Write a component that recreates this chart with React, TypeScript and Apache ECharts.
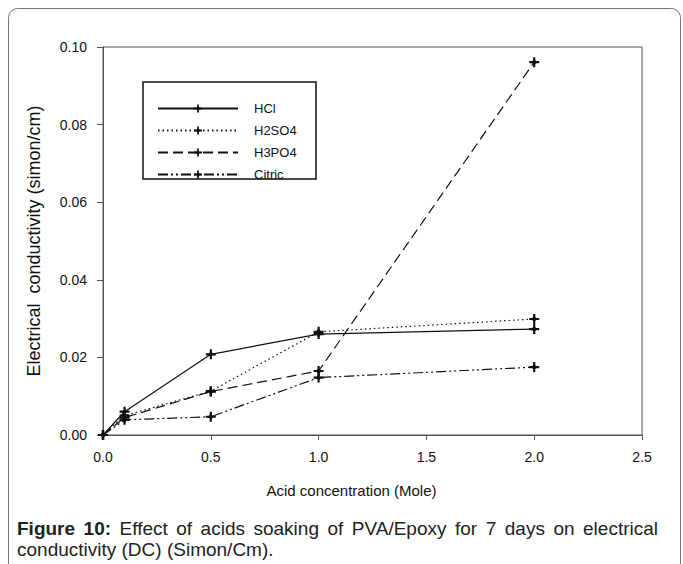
import React, { useEffect, useRef } from "react";
import * as echarts from "echarts";

const seriesNames = ["HCl", "H2SO4", "H3PO4", "Citric"];
const concentrations = [0, 0.1, 0.5, 1.0, 2.0];
const hclValues = [0, 0.006, 0.0208, 0.026, 0.0273];
const h2so4Values = [0, 0.005, 0.0113, 0.0266, 0.0299];
const h3po4Values = [0, 0.0045, 0.0112, 0.0165, 0.0961];
const citricValues = [0, 0.0039, 0.0047, 0.0148, 0.0175];
const xTicks = [0, 0.5, 1.0, 1.5, 2.0, 2.5];
const yTicks = [0, 0.02, 0.04, 0.06, 0.08, 0.1];

const captionLine1 = [
  { t: "Figure", b: true },
  { t: "10:", b: true },
  { t: "Effect", b: false },
  { t: "of", b: false },
  { t: "acids", b: false },
  { t: "soaking", b: false },
  { t: "of", b: false },
  { t: "PVA/Epoxy", b: false },
  { t: "for", b: false },
  { t: "7", b: false },
  { t: "days", b: false },
  { t: "on", b: false },
  { t: "electrical", b: false },
];
const captionLine2 = "conductivity (DC) (Simon/Cm).";

const FONT = "'Liberation Sans', Arial, sans-serif";
const MARK =
  "path://M3.9,0H6.1V3.9H10V6.1H6.1V10H3.9V6.1H0V3.9H3.9Z M5,1.9L8.1,5L5,8.1L1.9,5Z";

export default function App() {
  const ref = useRef<HTMLDivElement>(null);
  useEffect(() => {
    if (!ref.current) return;
    const chart = echarts.init(ref.current, null, { renderer: "svg" });

    // caption justification
    const capSize = 19;
    const cv = document.createElement("canvas");
    const ctx = cv.getContext("2d")!;
    const widths = captionLine1.map((w) => {
      ctx.font = `${w.b ? "bold " : ""}${capSize}px ${FONT}`;
      return ctx.measureText(w.t).width;
    });
    const capLeft = 17;
    const capRight = 658;
    const total = widths.reduce((a, b) => a + b, 0);
    const gap = (capRight - capLeft - total) / (captionLine1.length - 1);
    let cx = capLeft;
    const capEls: any[] = [];
    captionLine1.forEach((w, i) => {
      capEls.push({
        type: "text",
        x: cx,
        y: 528,
        style: {
          text: w.t,
          fontFamily: FONT,
          fontSize: capSize,
          fontWeight: w.b ? "bold" : "normal",
          fill: "#222",
          verticalAlign: "middle",
          align: "left",
        },
      });
      cx += widths[i] + gap;
    });
    capEls.push({
      type: "text",
      x: capLeft,
      y: 549,
      style: {
        text: captionLine2,
        fontFamily: FONT,
        fontSize: capSize,
        fill: "#222",
        verticalAlign: "middle",
        align: "left",
      },
    });

    const dash: any[] = ["solid", [1.5, 3], [10, 5], [10, 3, 2, 3, 2, 3]];
    const vals = [hclValues, h2so4Values, h3po4Values, citricValues];
    const series = seriesNames.map((name, i) => ({
      name,
      type: "line",
      data: concentrations.map((x, j) => [x, vals[i][j]]),
      symbol: MARK,
      symbolSize: 10,
      showAllSymbol: true,
      itemStyle: { color: "#111" },
      lineStyle: { color: "#111", width: 1.2, type: dash[i] },
      z: 3,
    }));

    chart.setOption({
      animation: false,
      backgroundColor: "#fff",
      textStyle: { fontFamily: FONT },
      grid: {
        left: 103,
        right: 41,
        top: 47,
        bottom: 129,
        show: true,
        borderColor: "#555",
        borderWidth: 1,
      },
      legend: {
        orient: "vertical",
        left: 152,
        top: 97,
        itemWidth: 80,
        itemHeight: 10,
        itemGap: 9,
        data: seriesNames,
        textStyle: {
          fontFamily: FONT,
          fontSize: 13,
          color: "#111",
          padding: [0, 0, 0, 11],
        },
      },
      xAxis: {
        type: "value",
        min: xTicks[0],
        max: xTicks[xTicks.length - 1],
        interval: 0.5,
        name: "Acid concentration (Mole)",
        nameLocation: "middle",
        nameGap: 48,
        nameTextStyle: {
          fontFamily: FONT,
          fontSize: 15,
          color: "#111",
          padding: [0, 42, 0, 0],
        },
        axisLine: { lineStyle: { color: "#555", width: 1 } },
        axisTick: { show: true, inside: false, length: 5, lineStyle: { color: "#555" } },
        axisLabel: {
          margin: 15,
          fontSize: 14,
          color: "#111",
          formatter: (v: number) => v.toFixed(1),
        },
        splitLine: { show: false },
      },
      yAxis: {
        type: "value",
        min: yTicks[0],
        max: yTicks[yTicks.length - 1],
        interval: 0.02,
        name: "Electrical  conductivity (simon/cm)",
        nameLocation: "middle",
        nameGap: 60,
        nameTextStyle: { fontFamily: FONT, fontSize: 18, color: "#111" },
        axisLine: { show: true, lineStyle: { color: "#555", width: 1 } },
        axisTick: { show: true, inside: false, length: 6, lineStyle: { color: "#555" } },
        axisLabel: {
          margin: 16,
          fontSize: 14,
          color: "#111",
          formatter: (v: number) => v.toFixed(2),
        },
        splitLine: { show: false },
      },
      graphic: [
        {
          type: "rect",
          shape: { x: 8.5, y: 8.5, width: 672, height: 620, r: 9 },
          style: { fill: "none", stroke: "#777", lineWidth: 1 },
          z: 0,
          silent: true,
        },
        {
          type: "rect",
          shape: { x: 143, y: 82, width: 173, height: 97 },
          style: { fill: "#fff", stroke: "#111", lineWidth: 1.5 },
          z: 1,
          silent: true,
        },
        ...capEls,
      ],
      series,
    });
    return () => chart.dispose();
  }, []);
  return (
    <div
      ref={ref}
      style={{ position: "absolute", left: 0, top: 0, width: 683, height: 564 }}
    />
  );
}
